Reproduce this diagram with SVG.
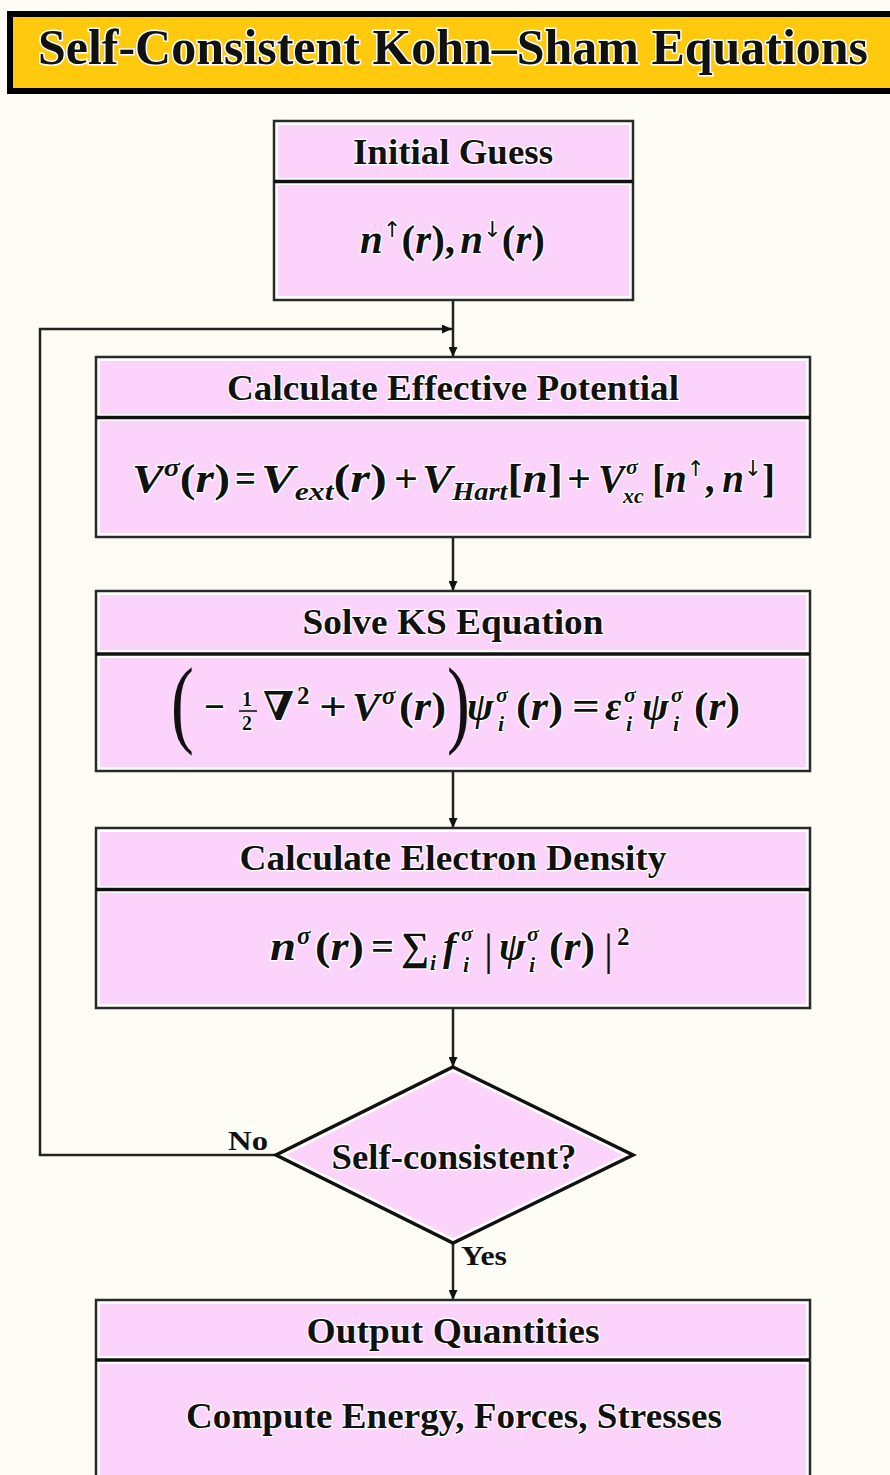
<svg xmlns="http://www.w3.org/2000/svg" width="890" height="1475" viewBox="0 0 890 1475">
<defs>
<marker id="arr" markerUnits="userSpaceOnUse" markerWidth="10" markerHeight="9" refX="10" refY="4.5" orient="auto"><path d="M0,0 L10,4.5 L0,9 z" fill="#111"/></marker>
<style>
.bg{fill:#FDFDF5}
.outer{fill:#ffffff;stroke:#2a2a2a;stroke-width:2.5}
.pink{fill:#FCD3FA}
.div{stroke:#111;stroke-width:3.5}
.hdr{font-family:"Liberation Serif",serif;font-weight:bold;font-size:36px;fill:#111;stroke:#fff;stroke-width:2.5;paint-order:stroke;text-anchor:middle}
.lbl{font-family:"Liberation Serif",serif;font-weight:bold;font-size:28px;fill:#111;stroke:#fff;stroke-width:2;paint-order:stroke}
.m{font-family:"Liberation Serif","DejaVu Serif",serif;font-weight:bold;font-size:40px;fill:#111;stroke:#fff;stroke-width:2.5;paint-order:stroke}
.it{font-style:italic}
.sp{font-size:25px}
.sb{font-size:25px}
.ss{font-size:22px}
.ar{font-family:"DejaVu Sans",sans-serif;font-weight:normal;font-size:22px}
.big{font-family:"Liberation Serif",serif;font-size:98px;fill:#111}
.bar{font-family:"Liberation Serif",serif;font-weight:normal;font-size:45px;fill:#111}
.conn{fill:none;stroke:#222;stroke-width:2.5}
</style>
</defs>
<rect class="bg" x="0" y="0" width="890" height="1475"/>

<g id="title">
<rect x="10" y="14" width="900" height="77" fill="#FFC90E" stroke="#000" stroke-width="6"/>
<text x="453" y="64" text-anchor="middle" font-family="'Liberation Serif',serif" font-weight="bold" font-size="50" fill="#111" stroke="#fff" stroke-width="3" paint-order="stroke" textLength="830" lengthAdjust="spacingAndGlyphs">Self-Consistent Kohn–Sham Equations</text>
</g>

<g id="connectors">
<line class="conn" x1="453" y1="300" x2="453" y2="357" marker-end="url(#arr)"/>
<polyline class="conn" points="277,1155 40,1155 40,329 452,329" marker-end="url(#arr)"/>
<line class="conn" x1="453" y1="537" x2="453" y2="591" marker-end="url(#arr)"/>
<line class="conn" x1="453" y1="771" x2="453" y2="828" marker-end="url(#arr)"/>
<line class="conn" x1="453" y1="1008" x2="453" y2="1067" marker-end="url(#arr)"/>
<line class="conn" x1="453" y1="1243" x2="453" y2="1300" marker-end="url(#arr)"/>
</g>

<g id="initial-guess">
<rect class="outer" x="274" y="121" width="359" height="179"/>
<rect class="pink" x="278" y="125" width="351" height="53"/>
<rect class="pink" x="278" y="185" width="351" height="111"/>
<line class="div" x1="274" y1="181.5" x2="633" y2="181.5"/>
<text class="hdr" x="453" y="164" textLength="200" lengthAdjust="spacingAndGlyphs">Initial Guess</text>
<text class="m" x="360" y="253" textLength="185" lengthAdjust="spacingAndGlyphs"><tspan class="it">n</tspan><tspan class="ar" dy="-16">↑</tspan><tspan dy="16">(</tspan><tspan class="it">r</tspan><tspan>),</tspan><tspan class="it" dx="5">n</tspan><tspan class="ar" dy="-16">↓</tspan><tspan dy="16">(</tspan><tspan class="it">r</tspan><tspan>)</tspan></text>
</g>

<g id="effective-potential">
<rect class="outer" x="96" y="357" width="714" height="180"/>
<rect class="pink" x="100" y="361" width="706" height="53"/>
<rect class="pink" x="100" y="421" width="706" height="112"/>
<line class="div" x1="96" y1="417.5" x2="810" y2="417.5"/>
<text class="hdr" x="453" y="400" textLength="452" lengthAdjust="spacingAndGlyphs">Calculate Effective Potential</text>
<text class="m" x="132" y="492" textLength="98" lengthAdjust="spacingAndGlyphs"><tspan class="it">V</tspan><tspan class="sp it" dy="-16">σ</tspan><tspan dy="16">(</tspan><tspan class="it">r</tspan><tspan>)</tspan></text>
<text class="m" x="235" y="492" textLength="21" lengthAdjust="spacingAndGlyphs">=</text>
<text class="m" x="261" y="492" textLength="126" lengthAdjust="spacingAndGlyphs"><tspan class="it">V</tspan><tspan class="sb it" dy="8">ext</tspan><tspan dy="-8">(</tspan><tspan class="it">r</tspan><tspan>)</tspan></text>
<text class="m" x="394" y="492" textLength="24" lengthAdjust="spacingAndGlyphs">+</text>
<text class="m" x="422" y="492" textLength="141" lengthAdjust="spacingAndGlyphs"><tspan class="it">V</tspan><tspan class="sb it" dy="8">Hart</tspan><tspan dy="-8">[</tspan><tspan class="it">n</tspan><tspan>]</tspan></text>
<text class="m" x="567" y="492" textLength="24" lengthAdjust="spacingAndGlyphs">+</text>
<text class="m it" x="598" y="492">V</text>
<text class="m it ss" x="626" y="474">σ</text>
<text class="m it ss" x="623" y="503">xc</text>
<text class="m" x="652" y="492" textLength="123" lengthAdjust="spacingAndGlyphs"><tspan>[</tspan><tspan class="it">n</tspan><tspan class="ar" dy="-16">↑</tspan><tspan dy="16">,</tspan><tspan class="it" dx="8">n</tspan><tspan class="ar" dy="-16">↓</tspan><tspan dy="16">]</tspan></text>
</g>

<g id="solve-ks">
<rect class="outer" x="96" y="591" width="714" height="180"/>
<rect class="pink" x="100" y="595" width="706" height="55"/>
<rect class="pink" x="100" y="658" width="706" height="109"/>
<line class="div" x1="96" y1="654" x2="810" y2="654"/>
<text class="hdr" x="453" y="634" textLength="301" lengthAdjust="spacingAndGlyphs">Solve KS Equation</text>
<text class="big" transform="translate(171,735) scale(0.7,1)">(</text>
<text class="m" x="204" y="720" textLength="21" lengthAdjust="spacingAndGlyphs">−</text>
<text class="m" x="242" y="706" style="font-size:20px">1</text>
<line x1="239" y1="711" x2="257" y2="711" stroke="#111" stroke-width="1.6"/>
<text class="m" x="242" y="730" style="font-size:20px">2</text>
<text class="m" x="263" y="720" textLength="31" lengthAdjust="spacingAndGlyphs">∇</text>
<text class="m sp" x="297" y="704">2</text>
<text class="m" x="319" y="720" textLength="28" lengthAdjust="spacingAndGlyphs">+</text>
<text class="m it" x="352" y="720" textLength="28" lengthAdjust="spacingAndGlyphs">V</text>
<text class="m it sp" x="382" y="704">σ</text>
<text class="m" x="399" y="720" textLength="47" lengthAdjust="spacingAndGlyphs">(<tspan class="it">r</tspan>)</text>
<text class="big" transform="translate(447,735) scale(0.7,1)">)</text>
<text class="m it" x="467" y="720">ψ</text>
<text class="m it ss" x="496" y="702">σ</text>
<text class="m it ss" x="498" y="731">i</text>
<text class="m" x="516" y="720" textLength="47" lengthAdjust="spacingAndGlyphs">(<tspan class="it">r</tspan>)</text>
<text class="m" x="572" y="720" textLength="28" lengthAdjust="spacingAndGlyphs">=</text>
<text class="m it" x="605" y="720">ε</text>
<text class="m it ss" x="624" y="702">σ</text>
<text class="m it ss" x="626" y="731">i</text>
<text class="m it" x="642" y="720">ψ</text>
<text class="m it ss" x="671" y="702">σ</text>
<text class="m it ss" x="673" y="731">i</text>
<text class="m" x="694" y="720" textLength="46" lengthAdjust="spacingAndGlyphs">(<tspan class="it">r</tspan>)</text>
</g>

<g id="electron-density">
<rect class="outer" x="96" y="828" width="714" height="180"/>
<rect class="pink" x="100" y="832" width="706" height="54"/>
<rect class="pink" x="100" y="893" width="706" height="111"/>
<line class="div" x1="96" y1="889.5" x2="810" y2="889.5"/>
<text class="hdr" x="453" y="870" textLength="427" lengthAdjust="spacingAndGlyphs">Calculate Electron Density</text>
<text class="m it" x="270" y="960" textLength="26" lengthAdjust="spacingAndGlyphs">n</text>
<text class="m it sp" x="297" y="944">σ</text>
<text class="m" x="315" y="960" textLength="49" lengthAdjust="spacingAndGlyphs">(<tspan class="it">r</tspan>)</text>
<text class="m" x="371" y="960" textLength="23" lengthAdjust="spacingAndGlyphs">=</text>
<text class="m" x="401" y="960" textLength="28" lengthAdjust="spacingAndGlyphs">∑</text>
<text class="m it ss" x="430" y="970">i</text>
<text class="m it" x="443" y="960">f</text>
<text class="m it ss" x="461" y="941">σ</text>
<text class="m it ss" x="463" y="972">i</text>
<text class="bar" x="484" y="965">|</text>
<text class="m it" x="499" y="960">ψ</text>
<text class="m it ss" x="527" y="941">σ</text>
<text class="m it ss" x="529" y="972">i</text>
<text class="m" x="549" y="960" textLength="46" lengthAdjust="spacingAndGlyphs">(<tspan class="it">r</tspan>)</text>
<text class="bar" x="604" y="965">|</text>
<text class="m sp" x="617" y="945">2</text>
</g>

<g id="self-consistent">
<polygon points="453,1067 633,1155 453,1243 276,1155" fill="#fff" stroke="#111" stroke-width="3.5"/>
<polygon points="453,1072 623,1155 453,1238 286,1155" class="pink"/>
<text class="hdr" x="454" y="1169" textLength="245" lengthAdjust="spacingAndGlyphs">Self-consistent?</text>
</g>

<g id="labels">
<text class="lbl" x="228" y="1150" textLength="40" lengthAdjust="spacingAndGlyphs">No</text>
<text class="lbl" x="461" y="1265" textLength="46" lengthAdjust="spacingAndGlyphs">Yes</text>
</g>

<g id="output">
<rect class="outer" x="96" y="1300" width="714" height="190"/>
<rect class="pink" x="100" y="1304" width="706" height="52"/>
<rect class="pink" x="100" y="1364" width="706" height="120"/>
<line class="div" x1="96" y1="1360" x2="810" y2="1360"/>
<text class="hdr" x="453" y="1343" textLength="293" lengthAdjust="spacingAndGlyphs">Output Quantities</text>
<text class="hdr" x="454" y="1428" textLength="536" lengthAdjust="spacingAndGlyphs">Compute Energy, Forces, Stresses</text>
</g>
</svg>
